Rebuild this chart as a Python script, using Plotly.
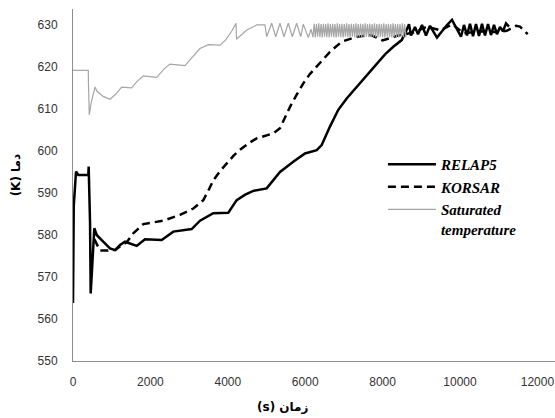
import plotly.graph_objects as go

# ---------------- data ----------------
relap_t = [0, 20, 78, 137, 396, 405, 440, 457, 551, 612, 741, 956, 1085, 1215, 1344,
           1646, 1860, 2292, 2592, 3067, 3282, 3625, 4013, 4230, 4450, 4659, 5005, 5349,
           5700, 5995, 6297, 6426, 6640, 6855, 7072, 7331, 7589, 7848, 8062, 8277, 8494,
           8605, 8682, 8734, 8837,
           8915, 9018, 9121, 9225, 9328, 9406, 9535, 9664, 9793, 9897, 10026, 10103,
           10181, 10258, 10336, 10414, 10491, 10569, 10646, 10724, 10801, 10879,
           10956, 11034, 11111, 11189, 11266]
relap_T = [563.8, 587.0, 595.1, 594.3, 594.3, 596.3, 583.0, 566.1, 581.6, 580.0, 578.8,
           576.8, 576.4, 577.6, 578.4, 577.4, 579.0, 578.8, 580.8, 581.4, 583.4, 585.2,
           585.3, 588.3, 589.6, 590.5, 591.1, 595.0, 597.5, 599.4, 600.2, 601.4, 605.8,
           609.8, 612.5, 615.3, 618.1, 620.9, 623.0, 624.8, 626.4,
           628.5, 630.2, 627.5, 629.5, 627.8, 630.0, 627.5, 629.8, 628.2,
           627.0, 628.5, 630.0, 631.2, 629.5, 627.2, 630.0, 627.5, 630.3, 627.3, 630.2,
           627.4, 630.3, 627.5, 630.2, 627.6, 630.0, 627.8, 629.5, 628.5, 630.4, 629.6]

korsar_t = [550, 700, 900, 1100, 1250, 1388, 1558, 1817, 2333, 2765, 3109, 3367, 3500,
            3625, 3800, 3970, 4150, 4315, 4530, 4746, 5177, 5349, 5608, 5780, 5952, 6120,
            6297, 6640, 6942, 7331, 7700,
            8000, 8400, 8800, 9140, 9500, 9800, 10100, 10500, 10900, 11207, 11450,
            11550, 11750]
korsar_T = [579.0, 576.3, 576.3, 576.5, 577.5, 578.3, 580.4, 582.6, 583.4, 584.8, 586.3,
            588.3, 590.6, 593.0, 595.2, 597.1, 598.9, 600.3, 601.8, 603.0, 604.2, 605.4,
            610.5, 613.4, 616.1, 618.3, 620.1, 623.6,
            626.0, 627.2, 627.6, 626.3, 627.5, 628.2, 629.6, 628.7, 630.2, 628.0, 628.5,
            628.3, 628.6, 629.8, 629.6, 627.8]

sat_t = [0, 395, 400, 421, 470, 568, 620, 780, 957, 1100, 1258, 1516, 1650, 1816, 2162,
         2350, 2507, 2894, 3050, 3282, 3500, 3799, 3950, 4100, 4212, 4225, 4488, 4747,
         4960, 5005, 5134, 5238, 5349, 5452, 5564, 5667, 5780, 5884, 5951, 6080, 6150,
         6200, 6230, 6260, 6290, 6320, 6350, 6380, 6410, 6440, 6470, 6500, 6530, 6560,
         6590, 6620, 6650, 6680, 6710, 6740, 6770, 6800, 6830, 6860, 6890, 6920, 6950,
         6980, 7010, 7040, 7070, 7100, 7130, 7160, 7190, 7220, 7250, 7280, 7310, 7340,
         7370, 7400, 7430, 7460, 7490, 7520, 7550, 7580, 7610, 7640, 7670, 7700, 7730,
         7760, 7790, 7820, 7850, 7880, 7910, 7940, 7970, 8000, 8030, 8060, 8090, 8120,
         8150, 8180, 8210, 8240, 8270, 8300, 8330, 8360, 8390, 8420, 8450, 8480, 8510,
         8540, 8570, 8600, 8630, 8660, 8690]
sat_T = [619.2, 619.2, 616.0, 608.6, 611.5, 615.2, 614.2, 613.0, 612.3, 613.5, 615.2,
         615.0, 616.5, 617.9, 617.5, 619.5, 620.7, 620.3, 622.0, 624.4, 625.3, 625.2,
         626.5, 628.5, 630.4, 626.6, 628.8, 630.0, 630.0, 627.2, 630.4, 627.2, 630.4,
         627.2, 630.4, 627.2, 630.4, 627.2, 630.2, 627.0, 629.0,
         627.1, 630.3, 627.0, 630.2, 627.2, 630.4, 627.1, 630.2, 627.0, 630.3, 627.2,
         630.2, 627.1, 630.4, 627.0, 630.2, 627.2, 630.3, 627.1, 630.2, 627.0, 630.4,
         627.2, 630.2, 627.1, 630.3, 627.0, 630.2, 627.2, 630.4, 627.1, 630.2, 627.0,
         630.3, 627.2, 630.2, 627.1, 630.4, 627.0, 630.2, 627.2, 630.3, 627.1, 630.2,
         627.0, 630.4, 627.2, 630.2, 627.1, 630.3, 627.0, 630.2, 627.2, 630.4, 627.1,
         630.2, 627.0, 630.3, 627.2, 630.2, 627.1, 630.4, 627.0, 630.2, 627.2, 630.3,
         627.1, 630.2, 627.0, 630.4, 627.2, 630.2, 627.1, 630.3, 627.0, 630.2, 627.2,
         630.4, 627.1, 630.2, 627.0]

x_ticks = [0, 2000, 4000, 6000, 8000, 10000, 12000]
y_ticks = [550, 560, 570, 580, 590, 600, 610, 620, 630]

# ---------------- figure ----------------
fig = go.Figure()
fig.add_trace(go.Scatter(x=relap_t, y=relap_T, mode="lines", name="RELAP5",
                         line=dict(color="black", width=2.5)))
fig.add_trace(go.Scatter(x=korsar_t, y=korsar_T, mode="lines", name="KORSAR",
                         line=dict(color="black", width=2.5, dash="8px,5px")))
fig.add_trace(go.Scatter(x=sat_t, y=sat_T, mode="lines", name="Saturated<br>temperature",
                         line=dict(color="#a6a6a6", width=1.2)))

tick_font = dict(family="Liberation Sans", size=12, color="#333333")

fig.update_layout(
    width=555, height=418,
    margin=dict(l=73, r=0, t=9, b=57),
    paper_bgcolor="white", plot_bgcolor="white",
    showlegend=True,
    legend=dict(x=0.643, y=0.605, xanchor="left", yanchor="top",
                bgcolor="rgba(0,0,0,0)", valign="top", itemwidth=48,
                font=dict(family="Liberation Serif", size=15, color="black",
                          weight="bold", style="italic")),
    xaxis=dict(range=[0, 12455], tickvals=x_ticks, ticktext=[str(v) for v in x_ticks],
               showgrid=False, zeroline=False, showline=True, linecolor="#8c8c8c",
               linewidth=1, ticks="", tickfont=tick_font, ticklabelstandoff=10),
    yaxis=dict(range=[550, 633.8], tickvals=y_ticks, ticktext=[str(v) for v in y_ticks],
               showgrid=False, zeroline=False, showline=True, linecolor="#8c8c8c",
               linewidth=1, ticks="", tickfont=tick_font, ticklabelstandoff=12),
    annotations=[
        dict(text="(K) دما", xref="paper", yref="paper", x=-0.135, y=0.53,
             textangle=-90, showarrow=False,
             font=dict(family="DejaVu Sans", size=12, color="black", weight="bold")),
        dict(text="(s) زمان", xref="paper", yref="paper", x=0.435, y=-0.13,
             showarrow=False, yanchor="middle",
             font=dict(family="DejaVu Sans", size=12, color="black", weight="bold")),
    ],
)

fig.write_html("out.html")
